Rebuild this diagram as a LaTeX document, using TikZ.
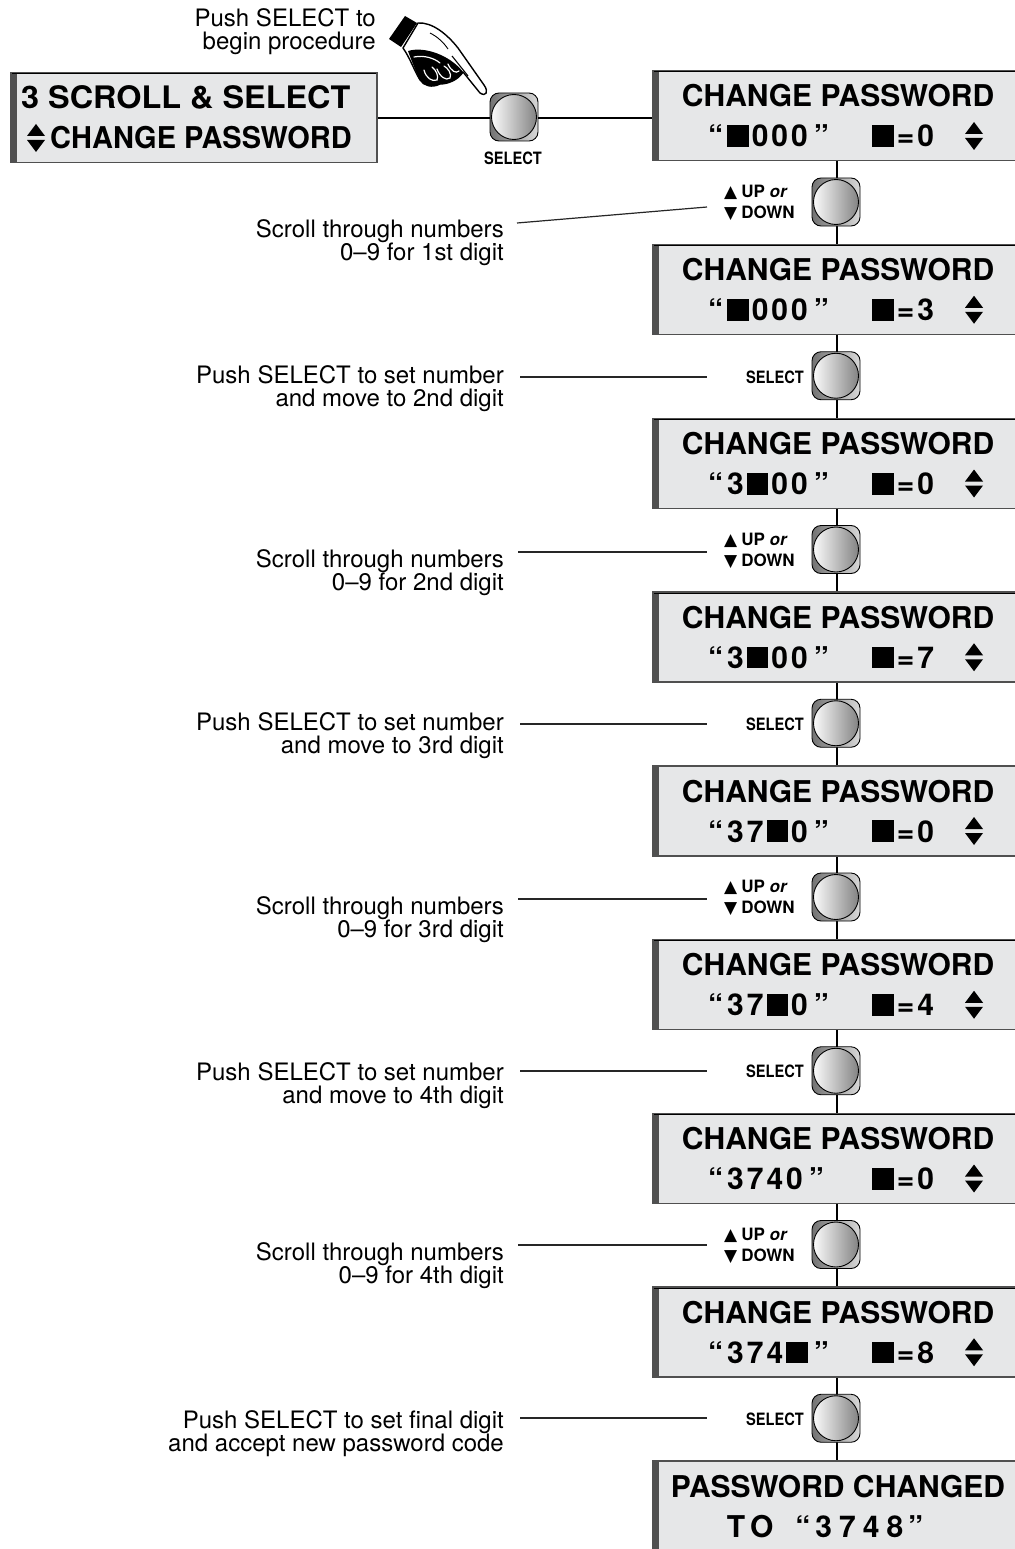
\documentclass[tikz,border=0pt]{standalone}
\usepackage{fontspec}
\setmainfont{TeX Gyre Heros}
\newfontfamily\symfont{DejaVu Sans}
\usetikzlibrary{calc}
\pgfdeclarelayer{bg}
\pgfsetlayers{bg,main}
\definecolor{lcdfill}{HTML}{E6E7E8}
\definecolor{lcdedge}{HTML}{505050}
\newcommand\sq{\rule{0.72em}{0.72em}}
\newcommand\ls{\kern3pt}
\newcommand\qt[1]{“\kern4pt#1\kern6pt”}
\newcommand\updown[2]{%
  \fill ({#1-9},{#2+12}) -- ({#1},{#2}) -- ({#1+9},{#2+12}) -- cycle;
  \fill ({#1-9},{#2+16}) -- ({#1+9},{#2+16}) -- ({#1},{#2+28}) -- cycle;}
\tikzset{
  lcdbox/.style={rectangle, fill=lcdfill, draw=lcdedge, line width=1.5pt, inner sep=0pt,
    anchor=north west, minimum height=90pt, minimum width=368pt,
    path picture={\fill[lcdedge] (path picture bounding box.north west) rectangle ([xshift=6pt]path picture bounding box.south west);
      \draw[black, line width=3pt] (path picture bounding box.north west) -- (path picture bounding box.north east);}},
  lcdtxt/.style={font=\fontsize{30}{30}\selectfont\bfseries, inner sep=0pt},
  annot/.style={font=\fontsize{24}{23}\selectfont, align=right, inner sep=0pt, anchor=north east},
  btnlab/.style={font=\fontsize{17}{21}\selectfont\bfseries, inner sep=0pt},
  wire/.style={line width=2pt, black},
  leader/.style={line width=1.2pt, black!85},
  btn/.style={rectangle, rounded corners=9pt, minimum size=48pt, inner sep=0pt, draw=black,
    line width=0.9pt, left color=black!55, right color=black!15,
    path picture={\draw[black, line width=0.9pt, left color=white, right color=black!50]
      (path picture bounding box.center) circle (22.5pt);}},
  fingerline/.style={white, line width=1.2pt, line cap=round}
}
\newcommand\lcdpanel[4]{%
  \node[lcdbox] (#1) at (652,#2) {};
  \node[lcdtxt, anchor=base] (#1a) at (838,{#2+37}) {CHANGE PASSWORD};
  \node[lcdtxt, anchor=base west] (#1b) at (708,{#2+77}) {#3};
  \node[lcdtxt, anchor=base west] (#1c) at (872,{#2+77}) {\sq\ls=\ls#4};
  \updown{974}{#2+52}}
\newcommand\uplab{{\fontsize{17}{21}\symfont ▲}\kern4pt UP \textit{or}\\{\fontsize{17}{21}\symfont ▼}\kern4pt DOWN}
\begin{document}
\begin{tikzpicture}[x=1pt,y=-1pt]
\useasboundingbox (0,0) rectangle (1014,1549);

% left panel
\node[lcdbox, minimum width=366pt] (lb) at (10,72) {};
\node[lcdtxt, anchor=base west, font=\fontsize{31}{31}\selectfont\bfseries] (lbt1) at (21,109) {\scalebox{1.045}[1]{3 SCROLL \& SELECT}};
\node[lcdtxt, anchor=base west] (lbt2) at (50,149) {\scalebox{0.965}[1]{CHANGE PASSWORD}};
\updown{36}{124}

% top button
\node[btn] (s0) at (514,117) {};
\node[btnlab] (s0l) at (513,158) {\scalebox{0.86}[1]{SELECT}};
\node[annot] (a0) at (376,8) {Push SELECT to\\begin procedure};

% hand
\fill[black] (389,39) -- (405,16) -- (417,23) -- (401,47) -- cycle;
\draw[fill=white, line width=1.4pt, line join=round]
  (418,23) .. controls (432,22) and (447,34) .. (458,48)
  -- (484,85) .. controls (489,92) and (486,97) .. (480,93)
  -- (463,72)
  .. controls (458,80) and (448,84) .. (440,84)
  .. controls (432,88) and (424,86) .. (420,80)
  .. controls (414,70) and (410,58) .. (403,48) -- cycle;
\fill[black] (408,51) .. controls (424,46) and (450,55) .. (463,72)
  .. controls (458,80) and (448,84) .. (440,84)
  .. controls (432,88) and (424,86) .. (420,80)
  .. controls (416,72) and (412,62) .. cycle;
\draw[fingerline] (414,57) .. controls (424,55) and (434,58) .. (440,63);
\draw[fingerline] (424,70) .. controls (426,78) and (432,82) .. (437,80) .. controls (439,76) and (436,70) .. (432,67);
\draw[fingerline] (437,69) .. controls (440,77) and (446,81) .. (450,78) .. controls (452,74) and (448,68) .. (444,66);
\draw[fingerline] (448,64) .. controls (451,71) and (456,74) .. (459,71);
\draw[line width=1.1pt] (452,56) -- (468,76);
\draw[line width=0.9pt] (430,33) .. controls (438,37) and (444,43) .. (448,49);

% right panels
\lcdpanel{p1}{70}{\qt{\sq\ls0\ls0\ls0}}{0}
\lcdpanel{p2}{243.75}{\qt{\sq\ls0\ls0\ls0}}{3}
\lcdpanel{p3}{417.5}{\qt{3\ls\sq\ls0\ls0}}{0}
\lcdpanel{p4}{591.25}{\qt{3\ls\sq\ls0\ls0}}{7}
\lcdpanel{p5}{765}{\qt{3\ls7\ls\sq\ls0}}{0}
\lcdpanel{p6}{938.75}{\qt{3\ls7\ls\sq\ls0}}{4}
\lcdpanel{p7}{1112.5}{\qt{3\ls7\ls4\ls0}}{0}
\lcdpanel{p8}{1286.25}{\qt{3\ls7\ls4\ls\sq}}{8}
\node[lcdbox] (p9) at (652,1460) {};
\node[lcdtxt, anchor=base] (p9a) at (838,1497) {PASSWORD CHANGED};
\node[lcdtxt, anchor=base] (p9b) at (825,1537) {T\kern5pt O\kern22pt“\kern5pt3\kern7pt7\kern7pt4\kern7pt8\kern5pt”};

% buttons
\node[btn] (s1) at (836,202) {};
\node[btn] (s2) at (836,375.75) {};
\node[btn] (s3) at (836,549.5) {};
\node[btn] (s4) at (836,723.25) {};
\node[btn] (s5) at (836,897) {};
\node[btn] (s6) at (836,1070.75) {};
\node[btn] (s7) at (836,1244.5) {};
\node[btn] (s8) at (836,1418.25) {};

% button labels
\node[btnlab, anchor=west, align=left] (k1) at (724,203) {\uplab};
\node[btnlab, anchor=east] (k2) at (804,377) {\scalebox{0.86}[1]{SELECT}};
\node[btnlab, anchor=west, align=left] (k3) at (724,550.5) {\uplab};
\node[btnlab, anchor=east] (k4) at (804,724.25) {\scalebox{0.86}[1]{SELECT}};
\node[btnlab, anchor=west, align=left] (k5) at (724,898) {\uplab};
\node[btnlab, anchor=east] (k6) at (804,1071.75) {\scalebox{0.86}[1]{SELECT}};
\node[btnlab, anchor=west, align=left] (k7) at (724,1245.5) {\uplab};
\node[btnlab, anchor=east] (k8) at (804,1419.25) {\scalebox{0.86}[1]{SELECT}};

% annotations
\node[annot] (a1) at (504,219) {Scroll through numbers\\0–9 for 1st digit};
\node[annot] (a2) at (504,365) {Push SELECT to set number\\and move to 2nd digit};
\node[annot] (a3) at (504,549) {Scroll through numbers\\0–9 for 2nd digit};
\node[annot] (a4) at (504,712) {Push SELECT to set number\\and move to 3rd digit};
\node[annot] (a5) at (504,896) {Scroll through numbers\\0–9 for 3rd digit};
\node[annot] (a6) at (504,1062) {Push SELECT to set number\\and move to 4th digit};
\node[annot] (a7) at (504,1242) {Scroll through numbers\\0–9 for 4th digit};
\node[annot] (a8) at (504,1410) {Push SELECT to set final digit\\and accept new password code};

\coordinate (e1) at (707,207);

\begin{pgfonlayer}{bg}
  \fill[white] (0,0) rectangle (1014,1549);
  \draw[wire] (lb.east) -- (lb.east -| p1.west);
  \draw[wire] (p1.south) -- (p2.north);
  \draw[wire] (p2.south) -- (p3.north);
  \draw[wire] (p3.south) -- (p4.north);
  \draw[wire] (p4.south) -- (p5.north);
  \draw[wire] (p5.south) -- (p6.north);
  \draw[wire] (p6.south) -- (p7.north);
  \draw[wire] (p7.south) -- (p8.north);
  \draw[wire] (p8.south) -- (p9.north);
  \draw[leader] ($(a1.north east)+(13,4)$) -- (e1);
  \draw[leader] ($(a2.north east)+(16,12)$) -- ++(187,0);
  \draw[leader] ($(a3.north east)+(14,3)$) -- ++(189,0);
  \draw[leader] ($(a4.north east)+(16,12)$) -- ++(187,0);
  \draw[leader] ($(a5.north east)+(14,3)$) -- ++(189,0);
  \draw[leader] ($(a6.north east)+(16,9)$) -- ++(187,0);
  \draw[leader] ($(a7.north east)+(14,3)$) -- ++(189,0);
  \draw[leader] ($(a8.north east)+(16,8)$) -- ++(187,0);
\end{pgfonlayer}
\end{tikzpicture}
\end{document}
